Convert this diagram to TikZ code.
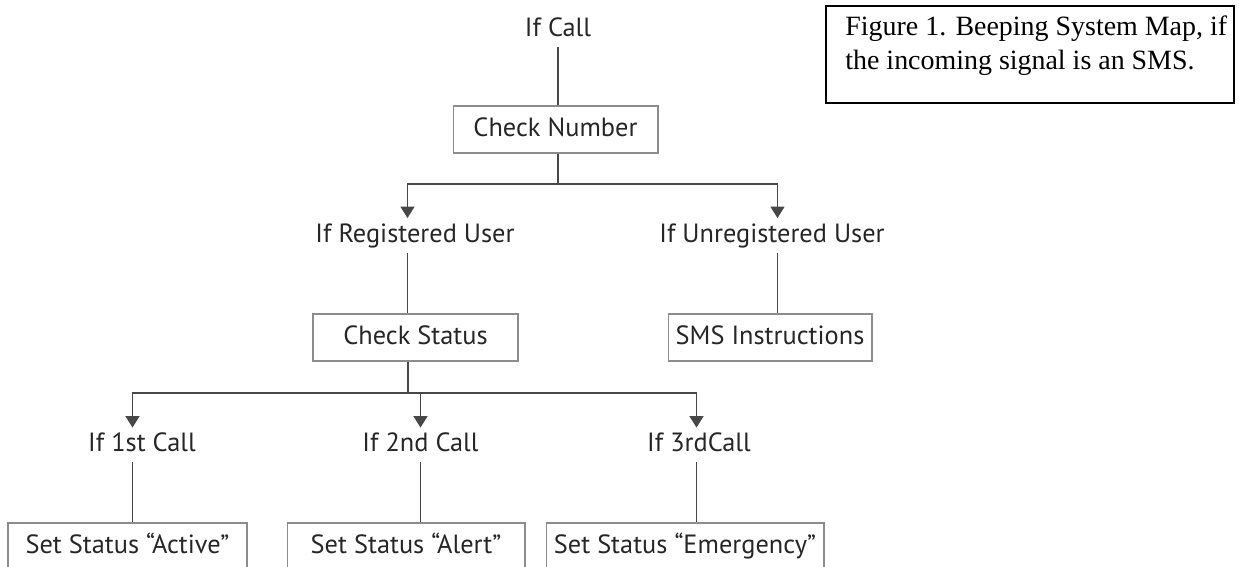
\documentclass[tikz,border=0pt]{standalone}
\usepackage{fontspec}
\setmainfont{PT Sans}
\newfontfamily\capfont{Liberation Serif}
\usetikzlibrary{arrows.meta}

\tikzset{
	cond/.style={inner sep=2.5pt,text height=11pt,text depth=3.5pt,font=\fontsize{15}{18}\selectfont,text=black!85},
	stepbox/.style={draw=black!45,line width=0.6pt,minimum height=0.94cm,inner sep=0pt,text height=11pt,text depth=3pt,font=\fontsize{15}{18}\selectfont,text=black!85},
	conn/.style={draw=black!72,line width=0.7pt},
	arr/.style={conn,-{Triangle[length=6.5pt,width=8pt]}},
	framebox/.style={draw=black,line width=0.9pt,minimum width=8.16cm,minimum height=1.94cm,inner sep=0pt},
	captext/.style={font=\capfont\fontsize{15.9}{16.5}\selectfont,align=left,inner sep=0pt}
}

\begin{document}
\begin{tikzpicture}[x=0.02cm,y=-0.02cm]
	\useasboundingbox (0,0) rectangle (1239,566);
	\clip (0,0) rectangle (1239,566);
	% top part
	\node (ifcall) at(558,29.5)[cond]{If Call};
	\node (chknum) at(555.5,129.5)[stepbox,minimum width=4.1cm]{Check Number};
	\node (reg) at(415,235.5)[cond]{If Registered User};
	\node (unreg) at(772,235.5)[cond]{If Unregistered User};
	\node (chkstat) at(415.5,337.5)[stepbox,minimum width=4.1cm]{Check Status};
	\node (smsinst) at(770,337.5)[stepbox,minimum width=4.08cm]{SMS Instructions};
	\coordinate (fork1) at(558,184);
	\coordinate (fork2) at(408,393);
	\coordinate (regcol) at(407.5,0);
	\coordinate (unregcol) at(777.5,0);
	\draw[conn] (ifcall.south) -- (ifcall.south |- chknum.north);
	\draw[conn] (chknum.south -| fork1) -- (fork1);
	\draw[arr] (fork1) -| (reg.north -| regcol);
	\draw[arr] (fork1) -| (unreg.north -| unregcol);
	\draw[conn] (reg.south -| regcol) -- (chkstat.north -| regcol);
	\draw[conn] (unreg.south -| unregcol) -- (smsinst.north -| unregcol);
	\draw[conn] (chkstat.south -| fork2) -- (fork2);
	% calls
	\foreach \i/\lx/\tx/\bx/\bw/\ctxt/\stxt in {
		1/132.5/142/127.5/4.78/If 1st Call/Set Status “Active”,
		2/420.5/420.5/406/4.76/If 2nd Call/Set Status “Alert”,
		3/696.5/699/685/5.56/If 3rdCall/Set Status “Emergency”}{
		\coordinate (col\i) at(\lx,393);
		\node (call\i) at(\tx,445)[cond]{\ctxt};
		\node (status\i) at(\bx,546.5)[stepbox,minimum width=\bw cm]{\stxt};
		\draw[arr] (fork2) -| (call\i.north -| col\i);
		\draw[conn] (call\i.south -| col\i) -- (status\i.north -| col\i);
	}
	% caption
	\node (capframe) at(1030,54.5)[framebox]{};
	\node (caption) at(845,15)[captext,anchor=north west]{Figure 1. Beeping System Map, if\\[3pt]the incoming signal is an SMS.};
\end{tikzpicture}
\end{document}
